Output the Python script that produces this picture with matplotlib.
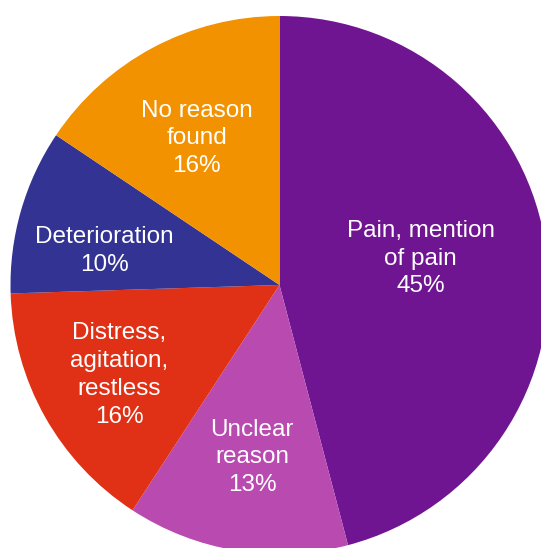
import numpy as np
import matplotlib
matplotlib.use("Agg")
import matplotlib.pyplot as plt

# slice sizes as drawn (the printed percentages are the labels)
categories = ["Pain, mention\nof pain", "Unclear\nreason", "Distress,\nagitation,\nrestless",
              "Deterioration", "No reason\nfound"]
shares = [45.9, 13.3, 15.3, 9.9, 15.6]
pct_labels = ["45%", "13%", "16%", "10%", "16%"]
colors = ["#701591", "#B84AB0", "#E03015", "#333393", "#F39200"]

# label placement: distance from centre (radius units) and angle nudge (deg)
label_dist = [0.536, 0.64, 0.679, 0.664, 0.634]
label_nudge = [4.2, 0.0, -0.7, 4.2, 1.0]

W, H = 541, 548
cx, cy, r = 279.5, 285, 269

fig = plt.figure(figsize=(W / 100, H / 100), dpi=100)
ax = fig.add_axes([0, 0, 1, 1])

wedges, _ = ax.pie(shares, colors=colors, startangle=90, counterclock=False,
                   radius=1, center=(0, 0), frame=True,
                   wedgeprops=dict(linewidth=0))
ax.set_xlim(-cx / r, (W - cx) / r)
ax.set_ylim(-(H - cy) / r, cy / r)
ax.axis("off")

dy = -2.5 / r  # matplotlib centres multi-line text a touch high
for w, name, pct, d, nd in zip(wedges, categories, pct_labels, label_dist, label_nudge):
    ang = np.deg2rad((w.theta1 + w.theta2) / 2 + nd)
    ax.text(d * np.cos(ang), d * np.sin(ang) + dy, name + "\n" + pct,
            ha="center", va="center", color="white", fontsize=17.5,
            family="Liberation Sans", linespacing=1.34)

fig.savefig("out.png", dpi=100)
